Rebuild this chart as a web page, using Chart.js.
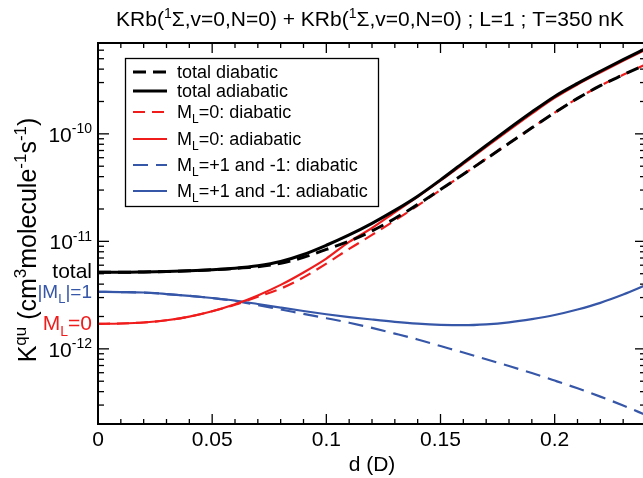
<!DOCTYPE html>
<html>
<head>
<meta charset="utf-8">
<script src="https://cdn.jsdelivr.net/npm/chart.js@4.4.1/dist/chart.umd.min.js"></script>
<style>
  html, body { margin: 0; padding: 0; background: #fff; overflow: hidden; }
  #wrap { width: 643px; height: 478px; overflow: hidden; }
  canvas { display: block; }
</style>
</head>
<body>
<div id="wrap"><canvas id="kquChart" width="650" height="478" style="width:650px;height:478px"></canvas></div>
<script>
// dipole moment d (D)
const dipole = [0, 0.01, 0.02, 0.03, 0.04, 0.05, 0.06, 0.07, 0.08, 0.09, 0.10, 0.11, 0.12,
  0.13, 0.14, 0.15, 0.16, 0.17, 0.18, 0.19, 0.20, 0.21, 0.22, 0.23, 0.24];

// K^qu in cm^3 molecule^-1 s^-1
const totalDiabatic = [5.16e-12, 5.16e-12, 5.19e-12, 5.24e-12, 5.32e-12, 5.45e-12, 5.60e-12, 5.81e-12,
  6.25e-12, 7.11e-12, 8.41e-12, 1.005e-11, 1.250e-11, 1.629e-11, 2.203e-11, 3.034e-11, 4.207e-11,
  5.861e-11, 8.166e-11, 1.138e-10, 1.574e-10, 2.138e-10, 2.805e-10, 3.540e-10, 4.436e-10];
const totalAdiabatic = [5.16e-12, 5.16e-12, 5.19e-12, 5.24e-12, 5.32e-12, 5.44e-12, 5.62e-12, 5.93e-12,
  6.50e-12, 7.55e-12, 9.20e-12, 1.148e-11, 1.472e-11, 1.941e-11, 2.63e-11, 3.73e-11, 5.40e-11,
  7.80e-11, 1.122e-10, 1.596e-10, 2.23e-10, 2.95e-10, 3.82e-10, 4.90e-10, 6.24e-10];
const ml0Diabatic = [1.710e-12, 1.722e-12, 1.758e-12, 1.845e-12, 1.995e-12, 2.239e-12, 2.570e-12,
  3.055e-12, 3.631e-12, 4.624e-12, 6.209e-12, 8.511e-12, 1.148e-11, 1.563e-11, 2.148e-11, 3.006e-11,
  4.207e-11, 5.861e-11, 8.166e-11, 1.138e-10, 1.574e-10, 2.138e-10, 2.805e-10, 3.540e-10, 4.436e-10];
const ml0Adiabatic = [1.710e-12, 1.722e-12, 1.758e-12, 1.845e-12, 1.995e-12, 2.239e-12, 2.600e-12,
  3.141e-12, 3.936e-12, 5.140e-12, 6.918e-12, 9.886e-12, 1.330e-11, 1.862e-11, 2.594e-11, 3.664e-11,
  5.248e-11, 7.551e-11, 1.081e-10, 1.542e-10, 2.158e-10, 2.877e-10, 3.724e-10, 4.786e-10, 6.095e-10];
const ml1Diabatic = [3.388e-12, 3.373e-12, 3.342e-12, 3.236e-12, 3.112e-12, 2.972e-12, 2.786e-12,
  2.553e-12, 2.323e-12, 2.118e-12, 1.928e-12, 1.750e-12, 1.567e-12, 1.387e-12, 1.222e-12, 1.062e-12,
  9.247e-13, 8.000e-13, 6.918e-13, 5.957e-13, 5.070e-13, 4.295e-13, 3.597e-13, 2.972e-13, 2.421e-13];
const ml1Adiabatic = [3.388e-12, 3.373e-12, 3.342e-12, 3.236e-12, 3.112e-12, 2.972e-12, 2.812e-12,
  2.612e-12, 2.421e-12, 2.249e-12, 2.099e-12, 1.977e-12, 1.875e-12, 1.786e-12, 1.718e-12, 1.675e-12,
  1.660e-12, 1.690e-12, 1.766e-12, 1.892e-12, 2.065e-12, 2.323e-12, 2.679e-12, 3.199e-12, 3.917e-12];

const xTickValues = [0, 0.05, 0.1, 0.15, 0.2];
const xTickLabels = ['0', '0.05', '0.1', '0.15', '0.2'];
const yTickValues = [1e-12, 1e-11, 1e-10];
const yTickExponents = ['-12', '-11', '-10'];

const FONT = '"Liberation Sans", Arial, Helvetica, sans-serif';
const BLACK = '#000000';
const RED = '#f01c1c';
const BLUE = '#3656a8';

const toPoints = arr => arr.map((v, i) => ({ x: dipole[i], y: v }));

// "^{..}" = superscript, "_{..}" = subscript
function parseRich(str) {
  const parts = [];
  const re = /([\^_])\{([^}]*)\}/g;
  let last = 0, m;
  while ((m = re.exec(str)) !== null) {
    if (m.index > last) parts.push({ t: str.slice(last, m.index) });
    parts.push({ t: m[2], sup: m[1] === '^', sub: m[1] === '_' });
    last = re.lastIndex;
  }
  if (last < str.length) parts.push({ t: str.slice(last) });
  return parts;
}

function drawRich(ctx, str, x, y, size, align, color) {
  const parts = parseRich(str);
  const small = Math.round(size * 0.66);
  let w = 0;
  parts.forEach(p => {
    ctx.font = `${p.sup || p.sub ? small : size}px ${FONT}`;
    w += ctx.measureText(p.t).width;
  });
  let cx = align === 'right' ? x - w : align === 'center' ? x - w / 2 : x;
  ctx.textAlign = 'left';
  ctx.textBaseline = 'alphabetic';
  ctx.fillStyle = color;
  parts.forEach(p => {
    ctx.font = `${p.sup || p.sub ? small : size}px ${FONT}`;
    const dy = p.sup ? -size * 0.4 : p.sub ? size * 0.28 : 0;
    ctx.fillText(p.t, cx, y + dy);
    cx += ctx.measureText(p.t).width;
  });
}

const legendRows = [72, 91, 112, 139, 165, 191];

const decorations = {
  id: 'decorations',
  afterDatasetsDraw(chart) {
    const { ctx, chartArea: a, scales: { x, y } } = chart;
    ctx.save();

    const seg = (x1, y1, x2, y2) => { ctx.beginPath(); ctx.moveTo(x1, y1); ctx.lineTo(x2, y2); ctx.stroke(); };

    // ticks
    ctx.strokeStyle = BLACK;
    ctx.lineWidth = 1.3;
    for (let i = 0; i <= 24; i++) {
      const px = x.getPixelForValue(i / 100);
      const len = i % 5 === 0 ? 10 : 5;
      seg(px, a.bottom, px, a.bottom - len);
      seg(px, a.top, px, a.top + len);
    }
    for (let e = -13; e <= -10; e++) {
      for (let m = 1; m <= 9; m++) {
        const v = m * Math.pow(10, e);
        if (v < y.min || v > y.max) continue;
        const py = y.getPixelForValue(v);
        const len = m === 1 ? 11 : 6;
        seg(a.left, py, a.left + len, py);
        seg(a.right, py, a.right - len, py);
      }
    }

    // frame
    ctx.lineWidth = 2;
    ctx.strokeRect(a.left, a.top, a.right - a.left, a.bottom - a.top);

    // tick labels
    xTickValues.forEach((v, i) => {
      drawRich(ctx, xTickLabels[i], x.getPixelForValue(v), a.bottom + 22, 21, 'center', BLACK);
    });
    yTickValues.forEach((v, i) => {
      const py = y.getPixelForValue(v);
      drawRich(ctx, '10^{' + yTickExponents[i] + '}', a.left - 6, py + 8, 21, 'right', BLACK);
    });

    // start-value labels
    drawRich(ctx, 'total', a.left - 6, y.getPixelForValue(totalAdiabatic[0]) + 6, 21, 'right', BLACK);
    drawRich(ctx, '|M_{L}|=1', a.left - 6, y.getPixelForValue(ml1Adiabatic[0]) + 6, 19, 'right', BLUE);
    drawRich(ctx, 'M_{L}=0', a.left - 6, y.getPixelForValue(ml0Adiabatic[0]) + 6, 21, 'right', RED);

    // titles
    drawRich(ctx, 'KRb(^{1}\u03A3,v=0,N=0) + KRb(^{1}\u03A3,v=0,N=0) ; L=1 ; T=350 nK', 370, 26, 21, 'center', BLACK);
    drawRich(ctx, 'd (D)', 372, 471, 21, 'center', BLACK);
    ctx.save();
    ctx.translate(36, 240);
    ctx.rotate(-Math.PI / 2);
    drawRich(ctx, 'K^{qu} (cm^{3}molecule^{-1}s^{-1})', 0, 0, 25, 'center', BLACK);
    ctx.restore();

    // legend
    ctx.fillStyle = '#ffffff';
    ctx.fillRect(125, 58, 253, 148);
    ctx.lineWidth = 1.3;
    ctx.strokeStyle = BLACK;
    ctx.strokeRect(125.5, 58.5, 253, 148);
    chart.data.datasets.forEach((ds, i) => {
      const ry = legendRows[i];
      ctx.strokeStyle = ds.borderColor;
      ctx.lineWidth = ds.borderWidth;
      ctx.setLineDash(ds.borderDash || []);
      seg(133, ry, 167, ry);
      ctx.setLineDash([]);
      drawRich(ctx, ds.label, 177, ry + 6, 18, 'left', BLACK);
    });

    ctx.restore();
  }
};

new Chart(document.getElementById('kquChart'), {
  type: 'line',
  data: {
    datasets: [
      { label: 'total diabatic', data: toPoints(totalDiabatic), borderColor: BLACK, borderWidth: 3, borderDash: [13, 7], order: 0 },
      { label: 'total adiabatic', data: toPoints(totalAdiabatic), borderColor: BLACK, borderWidth: 3, order: 0 },
      { label: 'M_{L}=0: diabatic', data: toPoints(ml0Diabatic), borderColor: RED, borderWidth: 2.2, borderDash: [12, 7], order: 1 },
      { label: 'M_{L}=0: adiabatic', data: toPoints(ml0Adiabatic), borderColor: RED, borderWidth: 2.2, order: 1 },
      { label: 'M_{L}=+1 and -1: diabatic', data: toPoints(ml1Diabatic), borderColor: BLUE, borderWidth: 2.2, borderDash: [15, 8], order: 2 },
      { label: 'M_{L}=+1 and -1: adiabatic', data: toPoints(ml1Adiabatic), borderColor: BLUE, borderWidth: 2.2, order: 2 }
    ]
  },
  options: {
    responsive: false,
    animation: false,
    events: [],
    layout: { padding: { left: 98, right: 4, top: 43, bottom: 54 } },
    elements: {
      point: { radius: 0 },
      line: { cubicInterpolationMode: 'monotone', fill: false, borderCapStyle: 'butt' }
    },
    plugins: { legend: { display: false }, tooltip: { enabled: false } },
    scales: {
      x: { type: 'linear', min: 0, max: 0.24, display: false },
      y: { type: 'logarithmic', min: 2e-13, max: 7e-10, display: false }
    }
  },
  plugins: [decorations]
});
</script>
</body>
</html>
